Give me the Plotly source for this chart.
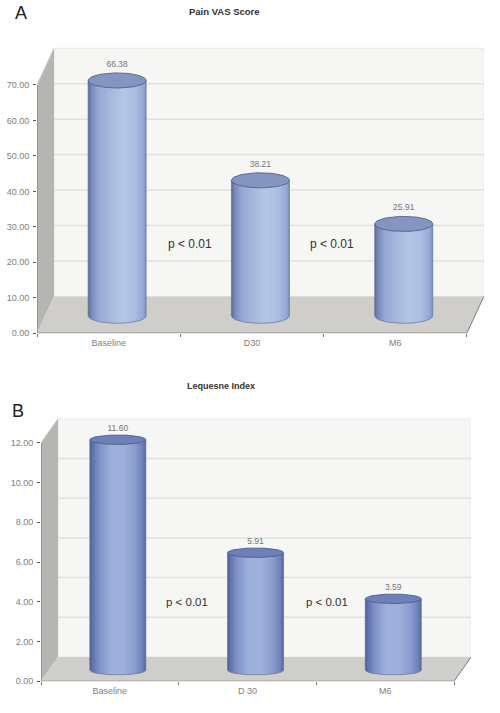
import numpy as np
import plotly.graph_objects as go

W, H = 500, 713

categories_a = ["Baseline", "D30", "M6"]
values_a = [66.38, 38.21, 25.91]
yticks_a = [0, 10, 20, 30, 40, 50, 60, 70]

categories_b = ["Baseline", "D 30", "M6"]
values_b = [11.60, 5.91, 3.59]
yticks_b = [0, 2, 4, 6, 8, 10, 12]

title_a = "Pain VAS Score"
title_b = "Lequesne Index"
p_label = "p < 0.01"

GRAD_T = [-1.0, -0.9, -0.65, -0.25, 0.2, 0.6, 0.9, 1.0]
GRAD_A = [(90, 106, 146), (118, 136, 180), (150, 168, 214), (166, 184, 222),
          (181, 199, 231), (172, 190, 226), (150, 168, 212), (124, 140, 184)]
GRAD_B = [(76, 96, 150), (96, 116, 174), (128, 148, 202), (158, 176, 220),
          (160, 176, 220), (140, 158, 208), (108, 128, 184), (82, 102, 156)]


def col(t, grad):
    g = np.array(grad, float)
    return "rgb(%d,%d,%d)" % tuple(np.interp(t, GRAD_T, g[:, k]) for k in range(3))


fig = go.Figure()
shapes = []
annots = []


def px(x):
    return x / W


def py(y):
    return 1 - y / H


def panel(suffix, cats, vals, yticks, left, right, bottom, top, cat_w, y_unit, dx_px, dy_px,
          rx_px, ry_px, bar_shift, grad, top_fill, lab_gap):
    xa = "x" + suffix
    ya = "y" + suffix
    xmin = -0.5
    xmax = xmin + (right - left) / cat_w
    ymax = (bottom - top) / y_unit
    dx = dx_px / cat_w
    dy = dy_px / y_unit
    rx = rx_px / cat_w
    ry = ry_px / y_unit
    base = (dy_px / 2 - 1) / y_unit + 0
    xend = xmin + len(cats)
    ylast = yticks[-1]

    def poly(xs, ys, fill, line=None, lw=0):
        path = "M" + " L".join(f"{a},{b}" for a, b in zip(xs, ys)) + " Z"
        shapes.append(dict(type="path", path=path, xref=xa, yref=ya, fillcolor=fill,
                           line=dict(color=line or fill, width=lw), layer="below"))

    poly([xmin + dx, xend + dx, xend + dx, xmin + dx], [dy, dy, ylast + dy, ylast + dy],
         "#f6f6f4", "#e6e6e2", 1)
    poly([xmin, xmin + dx, xmin + dx, xmin], [0, dy, ylast + dy, ylast], "#b6b5b1")
    poly([xmin, xmin + dx, xend + dx, xend], [0, dy, dy, 0], "#cfcecb")

    for v in yticks[1:-1]:
        shapes.append(dict(type="line", xref=xa, yref=ya, x0=xmin + dx, x1=xend + dx,
                           y0=v + dy, y1=v + dy, line=dict(color="#e2e2dc", width=1.5),
                           layer="below"))

    def line(xs, ys, color, w):
        fig.add_trace(go.Scatter(x=xs, y=ys, xaxis=xa, yaxis=ya, mode="lines",
                                 line=dict(color=color, width=w), hoverinfo="skip",
                                 showlegend=False, cliponaxis=False))

    n = 44
    edges = np.linspace(-1, 1, n + 1)
    for i, v in enumerate(vals):
        cx = i + bar_shift / cat_w
        ytop = v + base
        for a, b in zip(edges[:-1], edges[1:]):
            m = (a + b) / 2
            ts = np.linspace(a, min(b + 0.04, 1), 3)
            arc = ry * np.sqrt(np.clip(1 - ts ** 2, 0, 1))
            xs = np.r_[cx + rx * ts, cx + rx * ts[::-1]]
            ys = np.r_[ytop - arc, (base - arc)[::-1]]
            c = col(m, grad)
            fig.add_trace(go.Scatter(x=xs, y=ys, xaxis=xa, yaxis=ya, mode="lines", fill="toself",
                                     fillcolor=c, line=dict(width=0, color=c), hoverinfo="skip",
                                     showlegend=False))
        th = np.linspace(0, np.pi, 40)
        line(cx + rx * np.cos(th), base - ry * np.sin(th), "#6f7d9f", 0.8)
        line([cx - rx, cx - rx], [base, ytop], "#5f6e94", 0.7)
        line([cx + rx, cx + rx], [base, ytop], "#6a7aa0", 0.7)
        th = np.linspace(0, 2 * np.pi, 80)
        fig.add_trace(go.Scatter(x=cx + rx * np.cos(th), y=ytop + ry * np.sin(th), xaxis=xa,
                                 yaxis=ya, mode="lines", fill="toself", fillcolor=top_fill,
                                 line=dict(color="#46547e", width=0.8), hoverinfo="skip",
                                 showlegend=False))

    fig.add_trace(go.Scatter(
        x=[i + bar_shift / cat_w for i in range(len(vals))],
        y=[v + base + ry + lab_gap / y_unit for v in vals],
        xaxis=xa, yaxis=ya, mode="text", text=[f"{v:.2f}" for v in vals],
        textposition="top center", textfont=dict(family="Liberation Sans", size=8.5, color="#777777"),
        hoverinfo="skip", showlegend=False))

    line([xmin, xmin], [0, ylast], "#77776f", 1)
    line([xmin, xmin + dx], [ylast, ylast + dy], "#c8c8c4", 1)
    line([xmin, xend], [0, 0], "#a0a09c", 1.6)
    line([xend, xend + dx], [0, dy], "#7f7f7a", 1)

    axis_font = dict(family="Liberation Sans", size=9, color="#808080")
    xkey = "xaxis" + suffix
    ykey = "yaxis" + suffix
    layout = {
        xkey: dict(domain=[px(left), px(right)], range=[xmin, xmax], anchor=ya,
                   tickmode="array", tickvals=list(range(len(cats))), ticktext=cats,
                   ticks="", showgrid=False, zeroline=False, showline=False,
                   tickfont=axis_font, ticklabelstandoff=3,
                   minor=dict(tickmode="array", tickvals=[xmin + k for k in range(len(cats) + 1)],
                              ticks="outside", ticklen=3, tickcolor="#777777", showgrid=False)),
        ykey: dict(domain=[py(bottom), py(top)], range=[0, ymax], anchor=xa,
                   tickmode="array", tickvals=yticks, tickformat=".2f",
                   ticks="outside", ticklen=3, tickcolor="#555555", showgrid=False,
                   zeroline=False, showline=False, tickfont=axis_font, ticklabelstandoff=2),
    }
    fig.update_layout(**layout)


panel("", categories_a, values_a, yticks_a, 37, 484, 335.5, 47.5, 143.3, 3.57, 17, 37,
      29, 7.6, 8.5, GRAD_A, "#8594c0", 4)
panel("2", categories_b, values_b, yticks_b, 41, 471, 686, 421.5, 137.7, 20, 17, 24.3,
      28, 4.8, 8, GRAD_B, "#6c80ba", 2)


def note(x, y, text, size, color="#222222", bold=False, family="Liberation Sans"):
    annots.append(dict(x=px(x), y=py(y), xref="paper", yref="paper", text=f"<b>{text}</b>" if bold else text,
                       showarrow=False, xanchor="center", yanchor="middle",
                       font=dict(family=family, size=size, color=color)))


note(224, 12, title_a, 9.5, "#333333", True)
note(221, 389, title_b, 9, "#333333", True)
note(20.5, 13.5, "A", 18)
note(17.7, 413.5, "B", 18)
note(190, 246, p_label, 12, "#333333")
note(332, 246, p_label, 12, "#333333")
note(186.7, 606, p_label, 11.5, "#333333")
note(326.7, 606, p_label, 11.5, "#333333")

fig.update_layout(width=W, height=H, margin=dict(l=0, r=0, t=0, b=0), showlegend=False,
                  paper_bgcolor="white", plot_bgcolor="white", autosize=False,
                  shapes=shapes, annotations=annots)

fig.write_html("out.html", post_script="document.body.style.margin='0';", config=dict(displayModeBar=False))
